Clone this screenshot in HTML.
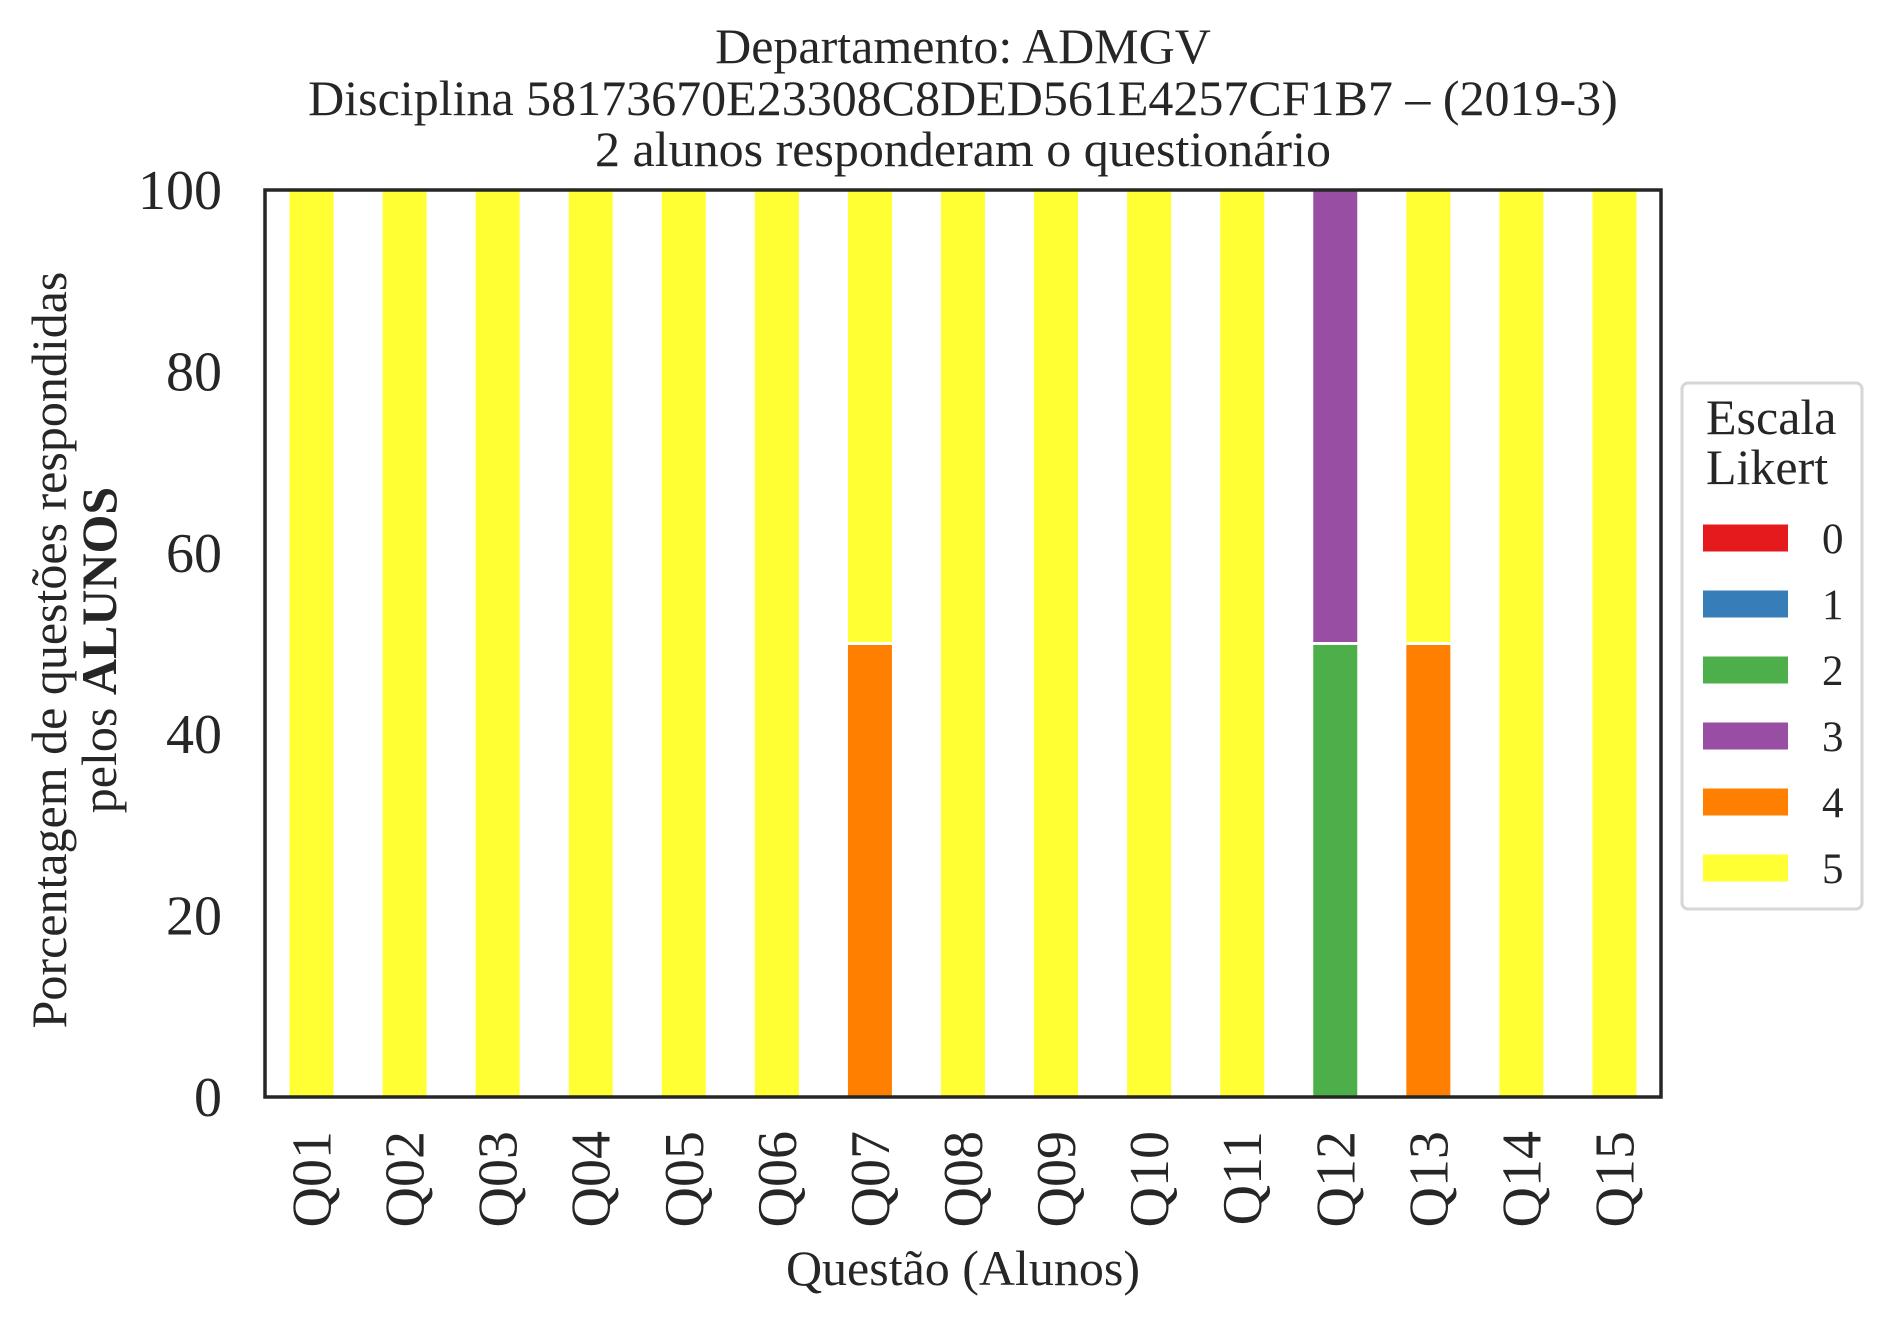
<!DOCTYPE html>
<html><head><meta charset="utf-8"><style>
html,body{margin:0;padding:0;background:#fff;}
svg{display:block;font-family:"Liberation Serif",serif;}
</style></head><body>
<svg id="chart" width="1892" height="1323" viewBox="0 0 1892 1323">
<g id="titles" fill="#262626" font-size="50" text-anchor="middle">
<text x="963" y="63">Departamento: ADMGV</text>
<text x="963" y="115">Disciplina 58173670E23308C8DED561E4257CF1B7 – (2019-3)</text>
<text x="963" y="166">2 alunos responderam o questionário</text>
</g>
<g id="bars"></g>
<g id="yticks"></g>
<g id="xticks"></g>
<rect x="265" y="190" width="1396" height="907" fill="none" stroke="#262626" stroke-width="3.5"/>
<g fill="#262626" font-size="50" text-anchor="middle">
<text transform="translate(66,650) rotate(-90)">Porcentagem de questões respondidas</text>
<text transform="translate(116,650) rotate(-90)">pelos <tspan font-weight="bold">ALUNOS</tspan></text>
</g>
<text x="963" y="1285" fill="#262626" font-size="50" text-anchor="middle">Questão (Alunos)</text>
<g id="legend">
<rect x="1682" y="383" width="180" height="526" rx="6" fill="#fff" stroke="#d6d6d6" stroke-width="3"/>
<text x="1706" y="434" font-size="50" fill="#262626">Escala</text>
<text x="1706" y="484" font-size="50" fill="#262626">Likert</text>
</g>
</svg>
<script>
const categories = ["Q01","Q02","Q03","Q04","Q05","Q06","Q07","Q08","Q09","Q10","Q11","Q12","Q13","Q14","Q15"];
const levels = ["0","1","2","3","4","5"];
const colors = ["#e41a1c","#377eb8","#4daf4a","#984ea3","#ff7f00","#ffff33"];
const s0 = [0,0,0,0,0,0,0,0,0,0,0,0,0,0,0];
const s1 = [0,0,0,0,0,0,0,0,0,0,0,0,0,0,0];
const s2 = [0,0,0,0,0,0,0,0,0,0,0,50,0,0,0];
const s3 = [0,0,0,0,0,0,0,0,0,0,0,50,0,0,0];
const s4 = [0,0,0,0,0,0,50,0,0,0,0,0,50,0,0];
const s5 = [100,100,100,100,100,100,50,100,100,100,100,0,50,100,100];
const series = [s0,s1,s2,s3,s4,s5];
const yTicks = [0,20,40,60,80,100];

const NS = "http://www.w3.org/2000/svg";
const L=265,R=1661,T=190,B=1097;
const slot=(R-L)/categories.length;
const xC=i=>L+slot*(i+0.5);
const yS=v=>B-(v/100)*(B-T);
const barsG=document.getElementById('bars');
categories.forEach((c,i)=>{
  let acc=0;
  series.forEach((s,k)=>{
    const v=s[i]; if(!v) return;
    const r=document.createElementNS(NS,'rect');
    const y0=yS(acc), y1=yS(acc+v);
    r.setAttribute('x',xC(i)-23.5);
    r.setAttribute('width',47);
    r.setAttribute('y',y1);
    r.setAttribute('height',y0-y1);
    r.setAttribute('fill',colors[k]);
    r.setAttribute('stroke','#fff');
    r.setAttribute('stroke-width',3);
    
    
    barsG.appendChild(r);
    acc+=v;
  });
});
const yG=document.getElementById('yticks');
yTicks.forEach(t=>{
  const tx=document.createElementNS(NS,'text');
  tx.setAttribute('x',222);tx.setAttribute('y',yS(t)+19);
  tx.setAttribute('text-anchor','end');tx.setAttribute('font-size',56);tx.setAttribute('fill','#262626');
  tx.textContent=t;
  
  
  yG.appendChild(tx);
});
const xG=document.getElementById('xticks');
categories.forEach((c,i)=>{
  const tx=document.createElementNS(NS,'text');
  tx.setAttribute('transform','translate('+(xC(i)+19)+',1131) rotate(-90)');
  tx.setAttribute('text-anchor','end');tx.setAttribute('font-size',56);tx.setAttribute('fill','#262626');
  tx.textContent=c;
  
  
  xG.appendChild(tx);
});
const lg=document.getElementById('legend');
levels.forEach((lv,k)=>{
  const cy=538+k*66;
  const r=document.createElementNS(NS,'rect');
  r.setAttribute('x',1703);r.setAttribute('y',cy-13.5);r.setAttribute('width',85);r.setAttribute('height',27);
  r.setAttribute('fill',colors[k]);
  
  
  lg.appendChild(r);
  const t=document.createElementNS(NS,'text');
  t.setAttribute('x',1822);t.setAttribute('y',cy+15);t.setAttribute('font-size',43);t.setAttribute('fill','#262626');
  t.textContent=lv;
  
  
  lg.appendChild(t);
});
</script>
</body></html>
